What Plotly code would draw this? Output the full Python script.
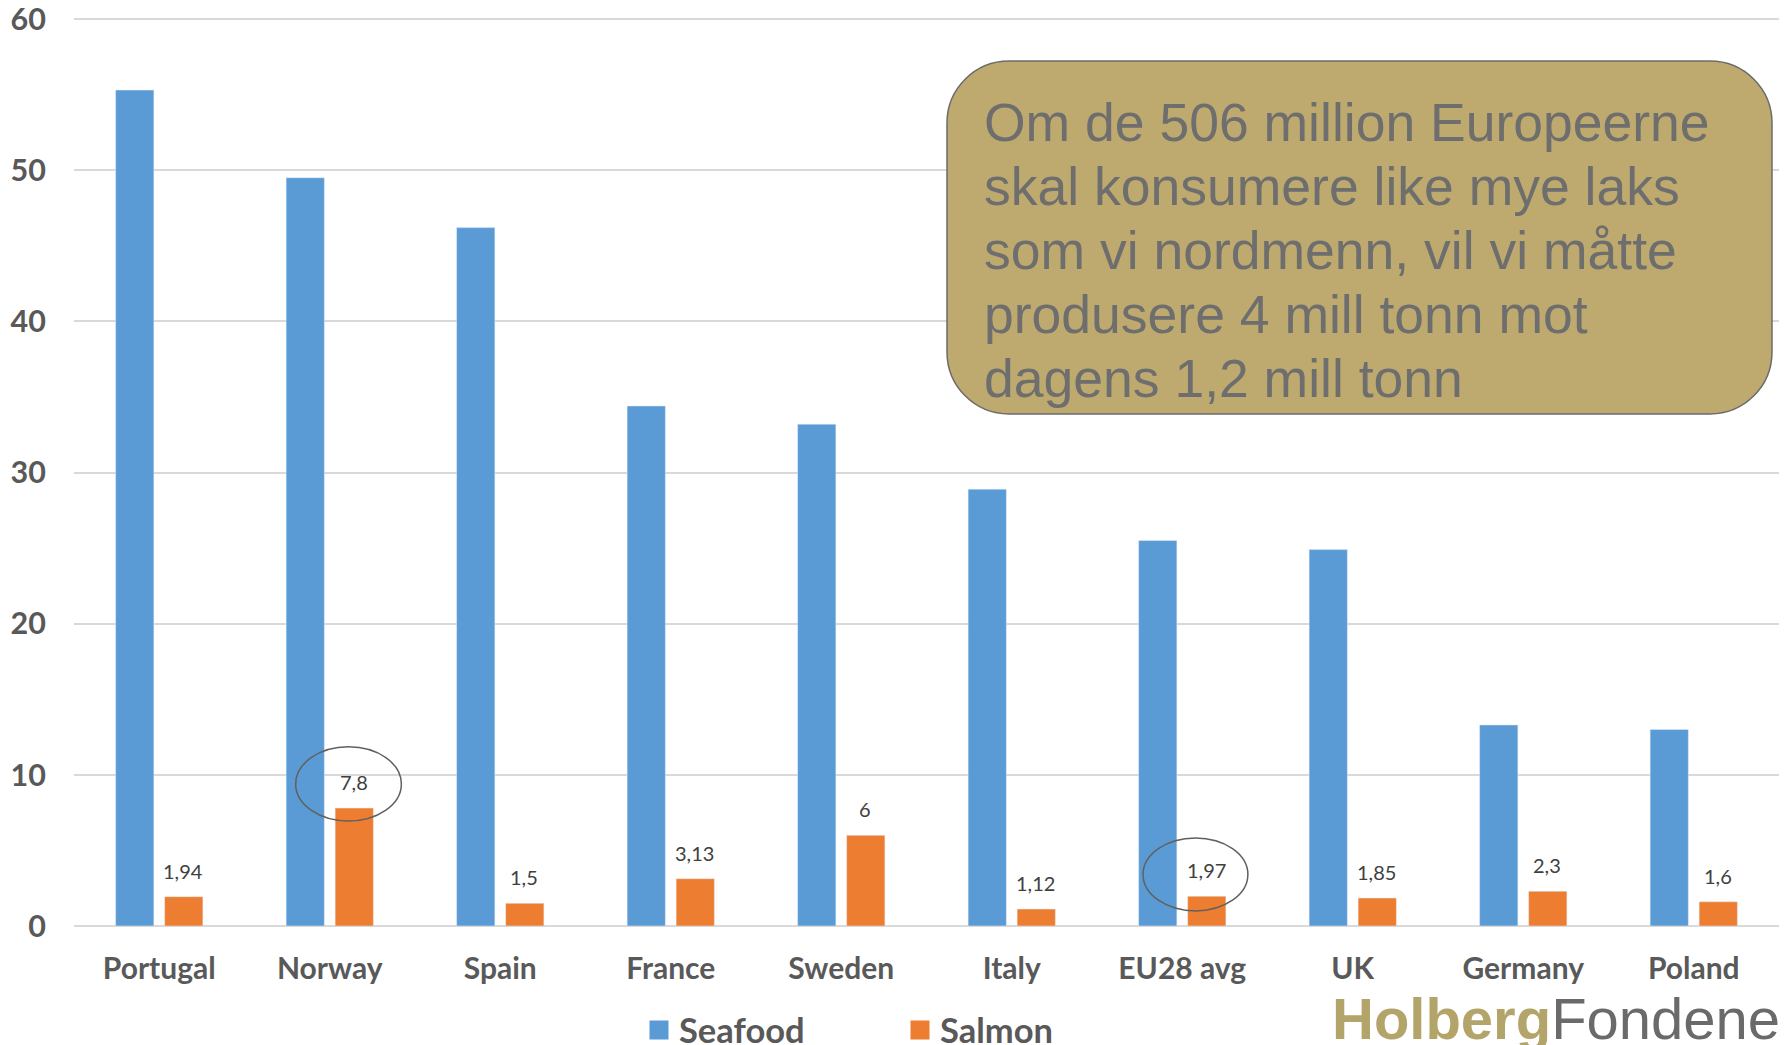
import plotly.graph_objects as go

categories = ["Portugal", "Norway", "Spain", "France", "Sweden", "Italy",
              "EU28 avg", "UK", "Germany", "Poland"]
seafood = [55.3, 49.5, 46.2, 34.4, 33.2, 28.9, 25.5, 24.9, 13.3, 13.0]
salmon = [1.94, 7.8, 1.5, 3.13, 6, 1.12, 1.97, 1.85, 2.3, 1.6]
salmon_labels = ["1,94", "7,8", "1,5", "3,13", "6", "1,12", "1,97", "1,85", "2,3", "1,6"]
y_ticks = [0, 10, 20, 30, 40, 50, 60]
box_lines = ["Om de 506 million Europeerne",
             "skal konsumere like mye laks",
             "som vi nordmenn, vil vi måtte",
             "produsere 4 mill tonn mot",
             "dagens 1,2 mill tonn"]
BLUE, ORANGE = "#5B9BD5", "#ED7D31"

W, H = 1785, 1045
L, R, T, B = 74, 6, 14, 119
PW, PH = W - L - R, H - T - B
UPX = (926 - 19) / 60.0          # pixels per unit so that 60 sits at y=19
YMAX = PH / UPX


def px(x):
    return (x - L) / PW


def py(y):
    return (H - B - y) / PH


fig = go.Figure()
fig.add_trace(go.Bar(name="Seafood", x=categories, y=seafood, marker_color=BLUE,
                     legendgroup="s", showlegend=False))
fig.add_trace(go.Bar(name="Salmon", x=categories, y=salmon, marker_color=ORANGE,
                     legendgroup="l", showlegend=False))
# legend entries with larger square keys
fig.add_trace(go.Scatter(name="Seafood", x=[None], y=[None], mode="markers", legendgroup="s",
                         marker=dict(symbol="square", size=16, color=BLUE,
                                     line=dict(color=BLUE, width=3))))
fig.add_trace(go.Scatter(name="Salmon", x=[None], y=[None], mode="markers", legendgroup="l",
                         marker=dict(symbol="square", size=16, color=ORANGE,
                                     line=dict(color=ORANGE, width=3))))

# data labels on salmon bars
for c, v, t in zip(categories, salmon, salmon_labels):
    fig.add_annotation(x=c, y=v, xref="x", yref="y", text=t, showarrow=False,
                       xshift=24, yshift=26, yanchor="middle",
                       font=dict(family="Lato", size=20, color="#404040"))

# ellipses around Norway and EU28 labels (category index coordinates)
fig.add_shape(type="circle", xref="x", yref="y", x0=0.80, x1=1.42, y0=6.95, y1=11.85,
              line=dict(color="#606060", width=1.5))
fig.add_shape(type="circle", xref="x", yref="y", x0=5.77, x1=6.385, y0=1.0, y1=5.82,
              line=dict(color="#606060", width=1.5))

# rounded text box
x0, x1, y0, y1, r = 947, 1772, 61, 414, 62
k = 0.5523 * r


def pt(x, y):
    return f"{px(x):.5f},{py(y):.5f}"


path = (f"M {pt(x0 + r, y0)} L {pt(x1 - r, y0)} "
        f"C {pt(x1 - r + k, y0)} {pt(x1, y0 + r - k)} {pt(x1, y0 + r)} "
        f"L {pt(x1, y1 - r)} "
        f"C {pt(x1, y1 - r + k)} {pt(x1 - r + k, y1)} {pt(x1 - r, y1)} "
        f"L {pt(x0 + r, y1)} "
        f"C {pt(x0 + r - k, y1)} {pt(x0, y1 - r + k)} {pt(x0, y1 - r)} "
        f"L {pt(x0, y0 + r)} "
        f"C {pt(x0, y0 + r - k)} {pt(x0 + r - k, y0)} {pt(x0 + r, y0)} Z")
fig.add_shape(type="path", xref="paper", yref="paper", path=path,
              fillcolor="#BEAA6E", line=dict(color="#6B6B6B", width=1.5), layer="above")

line_y = [122, 186, 250, 314, 378]
for ty, txt in zip(line_y, box_lines):
    fig.add_annotation(x=px(982), y=py(ty), xref="paper", yref="paper", text=txt,
                       showarrow=False, xanchor="left", yanchor="middle",
                       font=dict(family="Liberation Sans", size=53.5, color="#6E6E6E"))

# logo
fig.add_annotation(x=px(1782), y=py(1018), xref="paper", yref="paper",
                   text="<b>Holberg</b><span style='color:#6A6A6A'>Fondene</span>",
                   showarrow=False, xanchor="right", yanchor="middle",
                   font=dict(family="Liberation Sans", size=58, color="#B3A46A"))

fig.update_layout(
    width=W, height=H,
    margin=dict(l=L, r=R, t=T, b=B, pad=0, autoexpand=False),
    paper_bgcolor="white", plot_bgcolor="white",
    barmode="group", bargap=0.425, bargroupgap=0.22,
    showlegend=True,
    legend=dict(orientation="h", x=px(639), y=py(1030), xanchor="left", yanchor="middle",
                font=dict(family="Lato", size=34.5, color="#595959", weight="bold"),
                entrywidth=216, entrywidthmode="pixels", bgcolor="rgba(0,0,0,0)",
                itemsizing="trace"),
    xaxis=dict(showgrid=False, showline=False, ticks="", ticklabelstandoff=22,
               automargin=False,
               tickfont=dict(family="Lato", size=30, color="#595959", weight="bold")),
    yaxis=dict(range=[0, YMAX], tickvals=y_ticks, showgrid=True, gridcolor="#D9D9D9",
               gridwidth=2, zeroline=True, zerolinecolor="#D9D9D9", zerolinewidth=2,
               showline=False, ticks="", ticklabelstandoff=27, automargin=False,
               ticklabeloverflow="allow",
               tickfont=dict(family="Lato", size=30.5, color="#595959", weight="bold")),
)

fig.write_html("out.html", config={"displayModeBar": False},
               post_script="document.body.style.margin='0';document.body.style.overflow='hidden';")
